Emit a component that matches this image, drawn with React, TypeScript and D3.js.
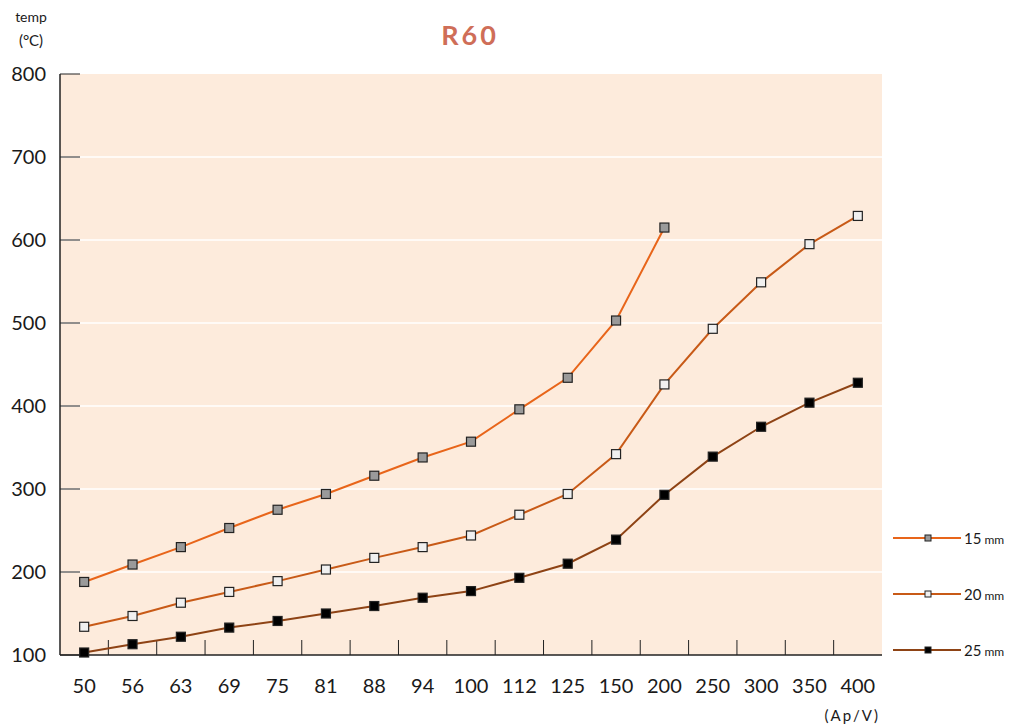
import React from "react";
import * as d3 from "d3";

const categories = ["50","56","63","69","75","81","88","94","100","112","125","150","200","250","300","350","400"];
const s15 = [188,209,230,253,275,294,316,338,357,396,434,503,615];
const s20 = [134,147,163,176,189,203,217,230,244,269,294,342,426,493,549,595,629];
const s25 = [103,113,122,133,141,150,159,169,177,193,210,239,293,339,375,404,428];
const yTicks = [100,200,300,400,500,600,700,800];

const series = [
  { name: "15", values: s15, line: "#e8651a", fill: "#9a9a9a" },
  { name: "20", values: s20, line: "#c85a17", fill: "#f0f0f0" },
  { name: "25", values: s25, line: "#8e4315", fill: "#000000" },
];

export default function App() {
  const W = 1017, H = 727;
  const left = 60, right = 882, top = 74, bottom = 655;
  const x = d3.scaleBand<string>().domain(categories).range([left, right]);
  const y = d3.scaleLinear().domain([100, 800]).range([bottom, top]);
  const cx = (i: number) => (x(categories[i]) as number) + x.bandwidth() / 2;
  const line = d3.line<number>().x((_, i) => cx(i)).y((d) => y(d));
  const font = "Lato, 'Open Sans', sans-serif";
  const legendY = [538, 594, 650];
  return (
    <svg width={W} height={H} style={{ position: "absolute", left: 0, top: 0 }} fontFamily={font}>
      <rect x={left} y={top} width={right - left} height={bottom - top} fill="#fdebdc" />
      {yTicks.slice(1, -1).map((t) => (
        <line key={"g" + t} x1={left} x2={right} y1={y(t)} y2={y(t)} stroke="#ffffff" strokeWidth={1.5} />
      ))}
      <line x1={left} x2={left} y1={top} y2={bottom} stroke="#222" strokeWidth={1.5} />
      <line x1={left} x2={right} y1={bottom} y2={bottom} stroke="#222" strokeWidth={1.5} />
      {yTicks.map((t) => (
        <g key={"yt" + t}>
          <line x1={left} x2={left + 20} y1={y(t)} y2={y(t)} stroke="#222" strokeWidth={1} />
          <text x={46} y={y(t)} dy="0.35em" textAnchor="end" fontSize={20} fill="#1a1a1a">{t}</text>
        </g>
      ))}
      {categories.map((c, i) => (
        <g key={"xt" + c}>
          {i > 0 && <line x1={x(c)} x2={x(c)} y1={bottom - 15} y2={bottom} stroke="#222" strokeWidth={1} />}
          <text x={cx(i)} y={686} dy="0.35em" textAnchor="middle" fontSize={20} fill="#1a1a1a">{c}</text>
        </g>
      ))}
      {series.map((s) => (
        <g key={s.name}>
          <path d={line(s.values) || ""} fill="none" stroke={s.line} strokeWidth={2} />
          {s.values.map((v, i) => (
            <rect key={i} x={cx(i) - 4.5} y={y(v) - 4.5} width={9} height={9} fill={s.fill} stroke="#222" strokeWidth={1.2} />
          ))}
        </g>
      ))}
      {series.map((s, k) => (
        <g key={"lg" + s.name}>
          <line x1={893} x2={961} y1={legendY[k]} y2={legendY[k]} stroke={s.line} strokeWidth={2} />
          <rect x={925} y={legendY[k] - 3} width={6} height={6} fill={s.fill} stroke="#222" strokeWidth={1} />
          <text x={964} y={legendY[k]} dy="0.35em" fill="#1a1a1a">
            <tspan fontSize={15}>{s.name}</tspan>
            <tspan fontSize={12} dx={3}>mm</tspan>
          </text>
        </g>
      ))}
      <text x={470} y={45} textAnchor="middle" fontSize={27} fontWeight="bold" fill="#cf6e58" letterSpacing={3}>R60</text>
      <text x={31} y={17} dy="0.35em" textAnchor="middle" fontSize={14} fill="#1a1a1a">temp</text>
      <text x={31} y={41} dy="0.35em" textAnchor="middle" fontSize={15} fill="#1a1a1a">(°C)</text>
      <text x={880} y={716} dy="0.35em" textAnchor="end" fontSize={15} fill="#1a1a1a" letterSpacing={2}>(Ap/V)</text>
    </svg>
  );
}
